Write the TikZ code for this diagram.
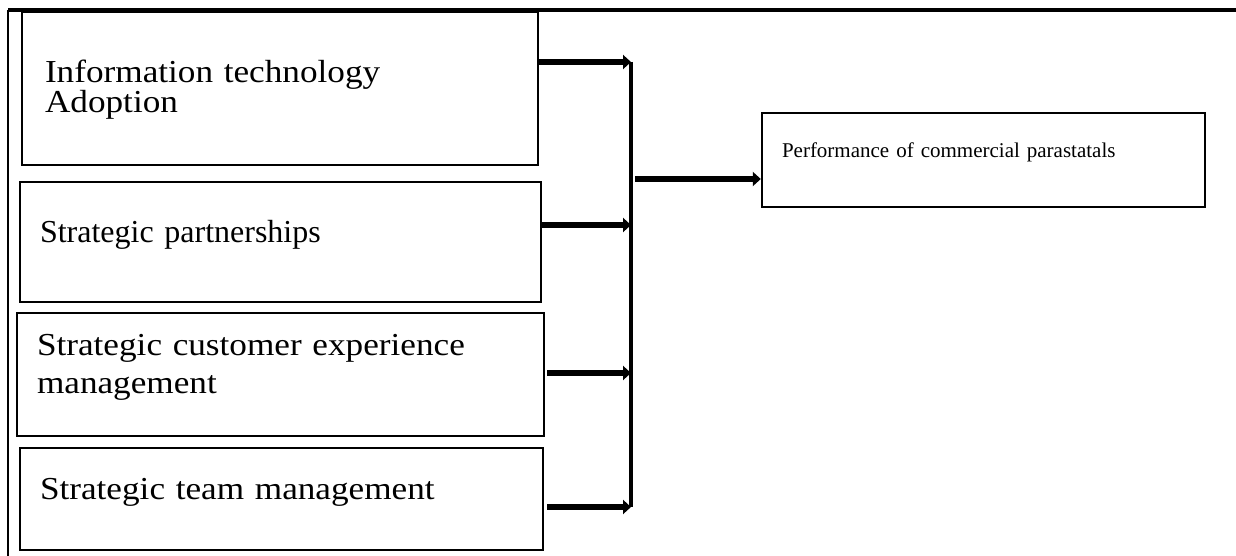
\documentclass[tikz,border=0pt]{standalone}
\usepackage{fontspec}
\setmainfont{Liberation Serif}
\newfontfamily\widefont[FakeStretch=1.1]{Liberation Serif}
\usetikzlibrary{arrows.meta,calc}

\begin{document}
\begin{tikzpicture}[x=0.5pt,y=-0.5pt,
  pala/.style={font=\widefont\fontsize{16}{15}\selectfont},
  termes/.style={font=\fontsize{16}{19}\selectfont},
  box/.style={draw=black,line width=1.2pt,align=left,
    inner xsep=10pt,inner ysep=0pt},
  flow/.style={-{Triangle[length=4pt,width=7pt]},line width=3pt},
  bus/.style={line width=1.6pt},
  frame/.style={line width=0.9pt}]
\useasboundingbox (0,0) rectangle (1236,556);
\draw[frame,line width=1.6pt] (8,10)--(1236,10);
\draw[frame] (8,10)--(8,556);

\node[box,pala,inner xsep=11.5pt,text height=11.5pt,text depth=17pt,
  minimum width=258pt,minimum height=76.5pt,
  text width=235pt] (it) at (280,88.5) {Information technology\\Adoption};
\node[box,termes,text height=10pt,text depth=10pt,
  minimum width=260.5pt,minimum height=60pt,
  text width=240.5pt] (partner) at (280.5,242) {Strategic partnerships};
\node[box,pala,font=\widefont\fontsize{16}{19}\selectfont,
  text height=11.5pt,text depth=31pt,
  minimum width=263.5pt,minimum height=61.5pt,
  text width=243.5pt] (custexp) at (280.5,374.5) {Strategic customer experience\\management};
\node[box,pala,text height=11.5pt,text depth=11.5pt,
  minimum width=261.5pt,minimum height=51pt,
  text width=241.5pt] (team) at (281.5,499) {Strategic team management};
\node[box,font=\fontsize{10.5}{12}\selectfont,text height=7.5pt,text depth=10.5pt,
  minimum width=221.5pt,minimum height=47pt,
  text width=201.5pt] (perf) at (983.5,160) {Performance of commercial parastatals};

\coordinate (b1) at (631,62);
\coordinate (b2) at (631,225);
\coordinate (b3) at (631,373);
\coordinate (b4) at (631,507);
\coordinate (bout) at (635,179);

\draw[bus] (b1)--(b4);
\draw[flow] (it.east |- b1)--(b1);
\draw[flow] (partner.east |- b2)--(b2);
\draw[flow] ($(custexp.east |- b3)+(2,0)$)--(b3);
\draw[flow] ($(team.east |- b4)+(3,0)$)--(b4);
\draw[flow] (bout)--(bout -| perf.west);
\end{tikzpicture}
\end{document}
